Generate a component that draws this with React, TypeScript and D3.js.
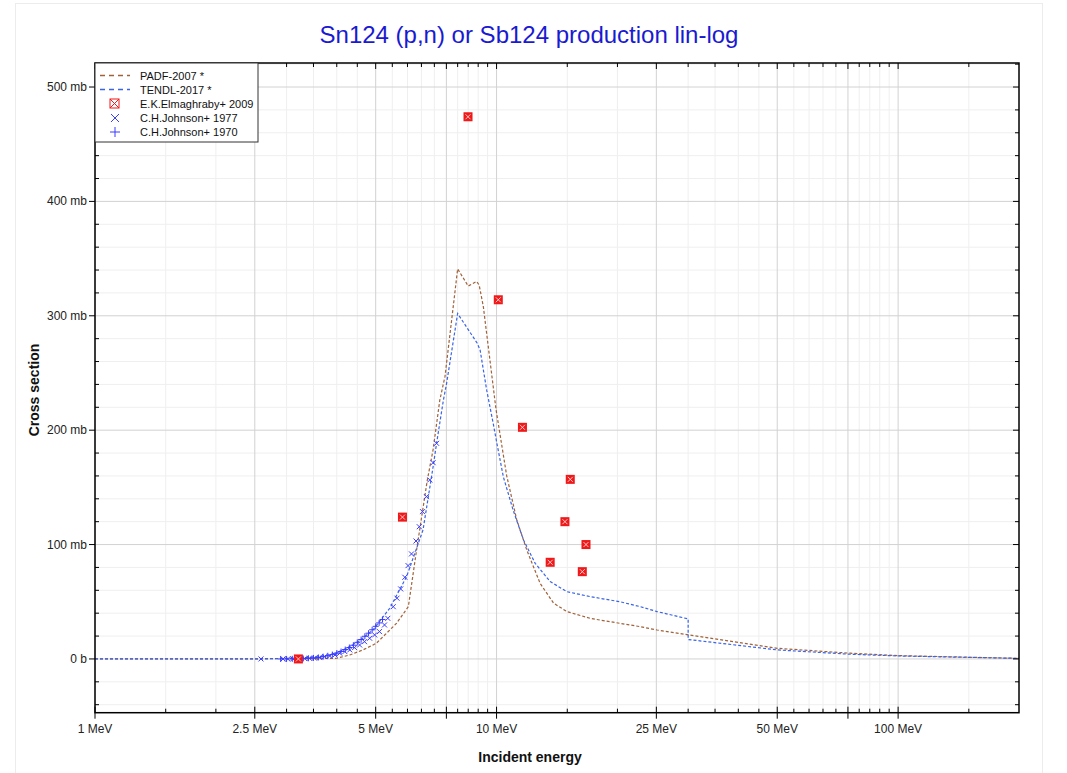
import React from 'react';
import * as d3 from 'd3';

// energies in MeV, cross sections in mb
const padfE = [1, 2, 2.5, 3, 3.56, 4.0, 4.31, 4.65, 5.02, 5.63, 6.03, 6.32, 6.72, 6.95, 7.22, 7.44, 7.8, 8.0, 8.5, 8.92, 9.05, 9.27, 9.97, 10.4, 10.6, 11.23, 11.9, 12.84, 13.87, 14.97, 17.1, 18.1, 22.8, 25.1, 30.1, 50, 76, 100, 200];
const padfS = [0, 0, 0.1, 0.2, 0.3, 0.6, 3.5, 7.9, 13.7, 31, 45.7, 95, 156, 183, 226, 247, 308, 341, 326, 330, 327, 308, 218, 178, 160, 121.5, 95, 66, 48.7, 41.4, 35.5, 34, 28.2, 25.3, 21, 9.3, 5, 2.9, 0.5];

const tendlE = [1, 2, 2.5, 3, 3.5, 3.8, 4.0, 4.23, 4.56, 4.92, 5.42, 5.97, 6.56, 6.95, 7.09, 7.37, 7.51, 8.0, 8.95, 9.1, 9.45, 9.82, 10.0, 10.4, 11.0, 11.67, 12.48, 13.6, 14.97, 17.1, 20.3, 22.8, 25.1, 30, 30, 50, 76, 100, 200];
const tendlS = [0, 0, 0.1, 0.5, 1.5, 3, 5.5, 9.3, 16, 25.3, 44.3, 72, 112.8, 168, 188.5, 226, 241, 302, 276, 270, 235, 205, 190, 159, 130, 104, 83.6, 67.6, 58.8, 54.5, 50, 45.7, 41.4, 35, 17, 7.9, 4.1, 2.6, 0.5];

const elmE = [3.21, 5.83, 8.49, 10.1, 11.6, 13.6, 14.8, 15.26, 16.35, 16.7];
const elmS = [0, 124, 474, 314, 202.5, 84.5, 120, 157, 76.3, 100];

const john77E = [2.59, 2.94, 3.02, 3.11, 3.23, 3.33, 3.42, 3.52, 3.63, 3.73, 3.84, 3.96, 4.07, 4.19, 4.31, 4.43, 4.56, 4.69, 4.83, 4.97, 5.11, 5.26, 5.36, 5.53, 5.65, 5.77, 5.91, 6.02, 6.14, 6.3, 6.42, 6.54, 6.69, 6.82, 6.95, 7.09];
const john77S = [0, 0, 0, 0.1, 0.2, 0.3, 0.6, 0.7, 1.2, 2, 2.6, 3.5, 5, 6.4, 7.9, 9.9, 12.2, 15.1, 18.1, 21, 23.9, 29.7, 35.5, 45.7, 53.1, 61.2, 71.4, 81.6, 91.8, 103.1, 115.6, 128.8, 141.9, 156.5, 171.6, 188.5];

const john70E = [2.9, 3.0, 3.1, 3.2, 3.3, 3.4, 3.5, 3.6, 3.7, 3.8, 3.9, 4.0, 4.1, 4.2, 4.3, 4.4, 4.5, 4.6, 4.7, 4.8, 4.9, 5.0, 5.1, 5.2];
const john70S = [0, 0, 0.1, 0.2, 0.4, 0.6, 0.9, 1.3, 2, 2.8, 3.8, 5, 6.5, 8.2, 10, 12, 14.5, 17, 19.8, 22.5, 25.5, 28.5, 31.5, 34.5];

const xMajor = [1, 2.5, 5, 7.5, 10, 25, 50, 75, 100];
const xLabeled = [1, 2.5, 5, 10, 25, 50, 100];
const xMinor = [1.5, 2, 3, 3.5, 4, 4.5, 5.5, 6, 6.5, 7, 8, 8.5, 9, 9.5, 15, 20, 30, 35, 40, 45, 55, 60, 65, 70, 80, 85, 90, 95, 150];
const yMajor = [0, 100, 200, 300, 400, 500];
const yMinor = [-40, -20, 20, 40, 60, 80, 120, 140, 160, 180, 220, 240, 260, 280, 320, 340, 360, 380, 420, 440, 460, 480, 520];

const FONT = '"Liberation Sans", Arial, sans-serif';
const padfColor = '#a0623a';
const tendlColor = '#3a64e6';
const markBlue = '#3b3bff';
const red = '#f01818';

const left = 95;
const right = 1019;
const top = 63;
const bottom = 712.7;

const x = d3.scaleLog().domain([1, 200]).range([left, right]);
const y = d3.scaleLinear().domain([-47, 521]).range([bottom, top]);

const line = d3
  .line<[number, number]>()
  .x((d) => x(d[0]))
  .y((d) => y(d[1]));

const zip = (a: number[], b: number[]) => a.map((v, i) => [v, b[i]] as [number, number]);

const fmtY = (v: number) => (v === 0 ? '0 b' : `${v} mb`);

const ElmMark = ({ cx, cy }: { cx: number; cy: number }) => (
  <g>
    <rect x={cx - 4.5} y={cy - 4.5} width={9} height={9} fill={red} />
    <path
      d={`M${cx - 2.5},${cy - 2.5}L${cx + 2.5},${cy + 2.5}M${cx - 2.5},${cy + 2.5}L${cx + 2.5},${cy - 2.5}`}
      stroke='#fff'
      strokeWidth={0.9}
      opacity={0.85}
    />
  </g>
);

const XMark = ({ cx, cy }: { cx: number; cy: number }) => (
  <path
    d={`M${cx - 2.5},${cy - 2.5}L${cx + 2.5},${cy + 2.5}M${cx - 2.5},${cy + 2.5}L${cx + 2.5},${cy - 2.5}`}
    stroke={markBlue}
    strokeWidth={1}
  />
);

const PlusMark = ({ cx, cy }: { cx: number; cy: number }) => (
  <path d={`M${cx - 3},${cy}L${cx + 3},${cy}M${cx},${cy - 3}L${cx},${cy + 3}`} stroke={markBlue} strokeWidth={1} />
);

const App: React.FC = () => {
  const legendRows = [75.5, 89.5, 103.5, 118, 132];
  return (
    <div style={{ position: 'absolute', left: 0, top: 0 }}>
      <svg width={1067} height={773} style={{ display: 'block', fontFamily: FONT }}>
        <rect x={0} y={0} width={1067} height={773} fill='#fff' />
        <rect x={15.5} y={3.5} width={1027} height={790} fill='none' stroke='#ececec' />

        <text x={529} y={43} textAnchor='middle' fontSize={24} fill='#1a1ad2'>
          Sn124 (p,n) or Sb124 production lin-log
        </text>

        {/* grid */}
        {xMinor.map((v) => (
          <line key={'gxm' + v} x1={x(v)} x2={x(v)} y1={top} y2={bottom} stroke='#efefef' />
        ))}
        {yMinor.map((v) => (
          <line key={'gym' + v} x1={left} x2={right} y1={y(v)} y2={y(v)} stroke='#efefef' />
        ))}
        {xMajor.map((v) => (
          <line key={'gx' + v} x1={x(v)} x2={x(v)} y1={top} y2={bottom} stroke='#d2d2d2' />
        ))}
        {yMajor.map((v) => (
          <line key={'gy' + v} x1={left} x2={right} y1={y(v)} y2={y(v)} stroke='#d2d2d2' />
        ))}

        {/* curves */}
        <path d={line(zip(padfE, padfS)) || ''} fill='none' stroke={padfColor} strokeWidth={1.2} strokeDasharray='3,2' />
        <path d={line(zip(tendlE, tendlS)) || ''} fill='none' stroke={tendlColor} strokeWidth={1.2} strokeDasharray='3,2' />

        {/* data points */}
        {john70E.map((e, i) => (
          <PlusMark key={'j70' + i} cx={x(e)} cy={y(john70S[i])} />
        ))}
        {john77E.map((e, i) => (
          <XMark key={'j77' + i} cx={x(e)} cy={y(john77S[i])} />
        ))}
        {elmE.map((e, i) => (
          <ElmMark key={'elm' + i} cx={x(e)} cy={y(elmS[i])} />
        ))}

        {/* frame and ticks */}
        <rect x={left} y={top} width={right - left} height={bottom - top} fill='none' stroke='#000' strokeWidth={1.5} />
        {xMajor.map((v) => (
          <g key={'tx' + v}>
            <line x1={x(v)} x2={x(v)} y1={bottom - 6} y2={bottom + 6} stroke='#000' />
            <line x1={x(v)} x2={x(v)} y1={top} y2={top + 6} stroke='#000' />
          </g>
        ))}
        {xMinor.map((v) => (
          <g key={'txm' + v}>
            <line x1={x(v)} x2={x(v)} y1={bottom - 4} y2={bottom} stroke='#000' />
            <line x1={x(v)} x2={x(v)} y1={top} y2={top + 4} stroke='#000' />
          </g>
        ))}
        {yMajor.map((v) => (
          <g key={'ty' + v}>
            <line x1={left - 6} x2={left} y1={y(v)} y2={y(v)} stroke='#000' />
            <line x1={right - 6} x2={right} y1={y(v)} y2={y(v)} stroke='#000' />
          </g>
        ))}
        {yMinor.map((v) => (
          <g key={'tym' + v}>
            <line x1={left} x2={left + 4} y1={y(v)} y2={y(v)} stroke='#000' />
            <line x1={right - 4} x2={right} y1={y(v)} y2={y(v)} stroke='#000' />
          </g>
        ))}

        {xLabeled.map((v) => (
          <text key={'lx' + v} x={x(v)} y={bottom + 20} textAnchor='middle' fontSize={12} fill='#222'>
            {`${v} MeV`}
          </text>
        ))}
        {yMajor.map((v) => (
          <text key={'ly' + v} x={left - 8} y={y(v) + 4} textAnchor='end' fontSize={12} fill='#222'>
            {fmtY(v)}
          </text>
        ))}

        <text x={530} y={762} textAnchor='middle' fontSize={14} fontWeight='bold' fill='#111'>
          Incident energy
        </text>
        <text
          transform='translate(39,390) rotate(-90)'
          textAnchor='middle'
          fontSize={14}
          fontWeight='bold'
          fill='#111'
        >
          Cross section
        </text>

        {/* legend */}
        <rect x={left} y={top} width={163} height={79} fill='#fff' stroke='#333' />
        <line x1={100} x2={130} y1={legendRows[0]} y2={legendRows[0]} stroke={padfColor} strokeWidth={1.5} strokeDasharray='5,4' />
        <line x1={100} x2={130} y1={legendRows[1]} y2={legendRows[1]} stroke={tendlColor} strokeWidth={1.5} strokeDasharray='5,4' />
        <g>
          <rect x={110} y={legendRows[2] - 4.5} width={9} height={9} fill='none' stroke={red} />
          <path
            d={`M110,${legendRows[2] - 4.5}L119,${legendRows[2] + 4.5}M110,${legendRows[2] + 4.5}L119,${legendRows[2] - 4.5}`}
            stroke={red}
          />
        </g>
        <path
          d={`M111,${legendRows[3] - 4}L119,${legendRows[3] + 4}M111,${legendRows[3] + 4}L119,${legendRows[3] - 4}`}
          stroke={markBlue}
        />
        <path d={`M110,${legendRows[4]}L120,${legendRows[4]}M115,${legendRows[4] - 5}L115,${legendRows[4] + 5}`} stroke={markBlue} />
        {['PADF-2007 *', 'TENDL-2017 *', 'E.K.Elmaghraby+ 2009', 'C.H.Johnson+ 1977', 'C.H.Johnson+ 1970'].map((t, i) => (
          <text key={t} x={140} y={legendRows[i] + 4} fontSize={11} fill='#111'>
            {t}
          </text>
        ))}
      </svg>
    </div>
  );
};

export default App;
